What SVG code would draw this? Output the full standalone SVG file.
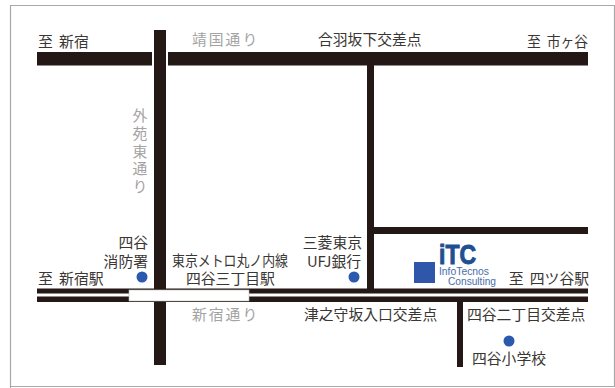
<svg xmlns="http://www.w3.org/2000/svg" width="615" height="388" viewBox="0 0 615 388">
<style>
text{font-family:"Noto Sans CJK JP","Noto Sans",sans-serif;font-size:14.8px;fill:#3a3634;text-anchor:middle;word-spacing:3px}
.g{fill:#a3a3a3;letter-spacing:2px}
.e{text-anchor:end}
.s{text-anchor:start}
.r{fill:#231815}
.d{fill:#2a59ad}
.l{font-family:"Liberation Sans",sans-serif;fill:#4a6ea8;font-size:11.5px;text-anchor:start}
</style>
<rect x="0" y="0" width="615" height="388" fill="#fff"/>
<path d="M10.500 388V5.500H614.500V386.500H10.500" fill="none" stroke="#a8a8a8" stroke-width="1.200"/>
<g id="connectors">
<rect class="r" x="37" y="52" width="115" height="13.500"/>
<rect class="r" x="168" y="52" width="420" height="13.500"/>
<rect class="r" x="154" y="30" width="12" height="335"/>
<rect class="r" x="367" y="65" width="7" height="225"/>
<rect class="r" x="374" y="227" width="214" height="7"/>
<rect class="r" x="37" y="288.500" width="551" height="5"/>
<rect class="r" x="37" y="296.500" width="551" height="5.500"/>
<rect class="r" x="457" y="302" width="6" height="65"/>
<rect x="129" y="290" width="120" height="11" fill="#fff" stroke="#bbb" stroke-width=".6"/>
</g>
<g id="road-labels">
<text x="38" y="47" class="s">至 新宿</text>
<text x="192" y="45" class="g s">靖国通り</text>
<text x="318" y="45" class="s">合羽坂下交差点</text>
<text x="527" y="47" class="s" textLength="61" lengthAdjust="spacingAndGlyphs">至 市ヶ谷</text>
<text x="140" y="108" class="g s" writing-mode="vertical-rl" style="letter-spacing:3px">外苑東通り</text>
<text x="192" y="320" class="g s">新宿通り</text>
<text x="38" y="284" class="s">至 新宿駅</text>
<text x="589" y="284" class="e">至 四ツ谷駅</text>
<text x="304" y="320" class="s">津之守坂入口交差点</text>
<text x="467" y="320" class="s">四谷二丁目交差点</text>
</g>
<g id="node-fire-station"><text x="148" y="248" class="e">四谷</text><text x="148" y="267" class="e">消防署</text><circle class="d" cx="142" cy="277" r="5.500"/></g>
<g id="node-station"><text x="172" y="266" class="s" textLength="116" lengthAdjust="spacingAndGlyphs">東京メトロ丸ノ内線</text><text x="186" y="284" class="s">四谷三丁目駅</text></g>
<g id="node-bank"><text x="362" y="248" class="e">三菱東京</text><text x="361" y="267" class="e">UFJ銀行</text><circle class="d" cx="354" cy="277" r="5.500"/></g>
<g id="node-itc">
<rect x="414" y="262" width="21" height="21" fill="#2f56a8"/>
<text x="439" y="264" class="s" textLength="37" lengthAdjust="spacingAndGlyphs" style="font-family:'Liberation Sans',sans-serif;font-weight:bold;font-size:28px;fill:#1d4f91;stroke:#1d4f91;stroke-width:1">iTC</text>
<text x="439" y="275" class="l" textLength="50" lengthAdjust="spacingAndGlyphs">InfoTecnos</text>
<text x="448" y="285" class="l" textLength="48" lengthAdjust="spacingAndGlyphs">Consulting</text>
</g>
<g id="node-school"><circle class="d" cx="509" cy="341" r="5.500"/><text x="472" y="364" class="s">四谷小学校</text></g>
</svg>
